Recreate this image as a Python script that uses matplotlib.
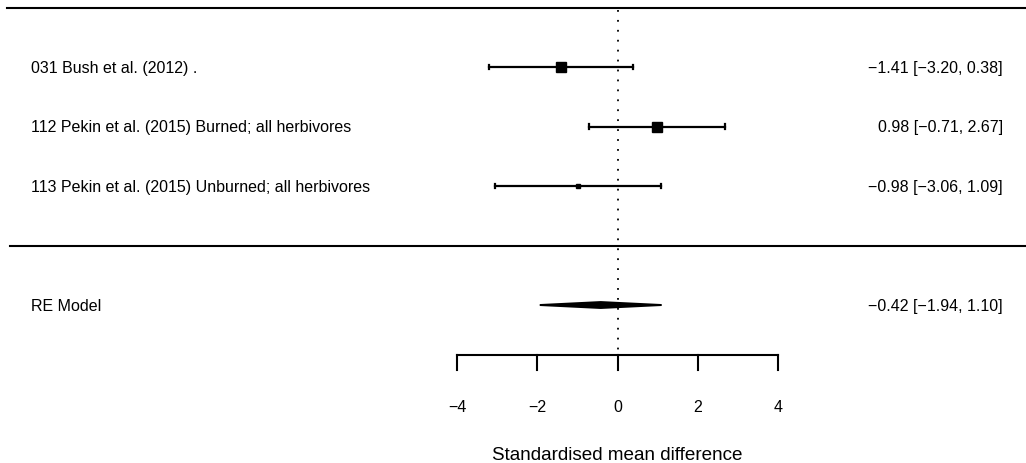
import matplotlib.pyplot as plt

plt.rcParams['font.family'] = ['Liberation Sans', 'DejaVu Sans']

# study data
labels = ["031 Bush et al. (2012) .",
          "112 Pekin et al. (2015) Burned; all herbivores",
          "113 Pekin et al. (2015) Unburned; all herbivores"]
est = [-1.41, 0.98, -0.98]
lo = [-3.20, -0.71, -3.06]
hi = [0.38, 2.67, 1.09]
sq_size = [6.5, 7.9, 2.9]   # marker size (pt), proportional to weight
rows = [3, 2, 1]

re_label = "RE Model"
re_est, re_lo, re_hi = -0.42, -1.94, 1.10

xticks = [-4, -2, 0, 2, 4]
xlabel = "Standardised mean difference"

fig = plt.figure(figsize=(10.26, 4.64), dpi=100)
ax = fig.add_axes([0, 0, 1, 1])
ax.set_xlim(-15.40, 10.185)
ax.set_ylim(-3.655, 4.143)
ax.axis('off')

xl_left = -14.63
xl_right = 9.61

# horizontal rules
ax.plot([-15.23, 10.185], [4, 4], color='black', lw=1.5)
ax.plot([-15.15, 10.185], [0, 0], color='black', lw=1.5)

# reference line at 0
ax.plot([0, 0], [3.95, -1.84], color='black', lw=1.3, linestyle=(0, (1, 4.5)))

fs = 11.5
for r, lab, e, l, h, s in zip(rows, labels, est, lo, hi, sq_size):
    ax.plot([l, h], [r, r], color='black', lw=1.6)
    for xe in (l, h):
        ax.plot([xe, xe], [r - 0.04, r + 0.04], color='black', lw=1.6)
    ax.plot(e, r, marker='s', color='black', markersize=s, linestyle='none')
    ax.text(xl_left, r, lab, ha='left', va='center', fontsize=fs)
    ax.text(xl_right, r, f"{e:.2f} [{l:.2f}, {h:.2f}]".replace('-', '\u2212'),
            ha='right', va='center', fontsize=fs)

# summary diamond
dh = 0.05
ax.fill([re_lo, re_est, re_hi, re_est], [-1, -1 + dh, -1, -1 - dh],
        color='black', lw=1.4, edgecolor='black')
ax.text(xl_left, -1, re_label, ha='left', va='center', fontsize=fs)
ax.text(xl_right, -1, f"{re_est:.2f} [{re_lo:.2f}, {re_hi:.2f}]".replace('-', '\u2212'),
        ha='right', va='center', fontsize=fs)

# x axis
ax.plot([xticks[0], xticks[-1]], [-1.84, -1.84], color='black', lw=1.5)
for t in xticks:
    ax.plot([t, t], [-1.84, -2.10], color='black', lw=1.5)
    ax.text(t, -2.71, str(t).replace('-', '\u2212'), ha='center', va='center', fontsize=fs)
ax.text(0, -3.52, xlabel, ha='center', va='center', fontsize=13.6)

fig.savefig('out.png', dpi=100)
